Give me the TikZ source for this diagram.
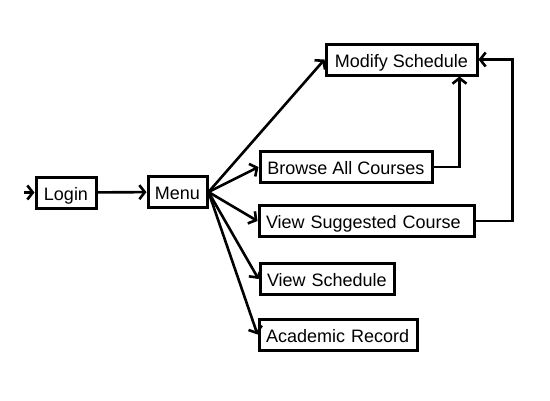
\documentclass[tikz,border=0pt]{standalone}
\usepackage{fontspec}
\setmainfont{Liberation Sans}
\usetikzlibrary{arrows.meta}
\begin{document}
\begin{tikzpicture}[x=1pt,y=-1pt,
  box/.style={draw,line width=3pt,minimum height=31pt,inner sep=0pt,text height=17pt,text depth=2pt,font=\fontsize{18}{21}\selectfont},
  lbox/.style={box,text width=#1-14pt,align=left,inner xsep=7pt},
  conn/.style={line width=2.6pt,-{Straight Barb[length=5.5pt,width=14pt,line width=2.6pt]}}]
\useasboundingbox (0,0) rectangle (550,400);
\node[box,minimum width=60pt] (login) at (66,192.5) {Login};
\node[box,minimum width=59pt] (menu) at (177.5,192) {Menu};
\node[box,minimum width=151pt] (mod) at (401.5,59.5) {Modify Schedule};
\node[box,minimum width=172pt] (browse) at (346,167) {Browse All Courses};
\node[lbox=215pt] (sugg) at (366.5,221) {View Suggested Course};
\node[lbox=134pt] (sched) at (327,279) {View Schedule};
\node[lbox=158pt] (acad) at (338,334.5) {Academic Record};
\coordinate (start) at (24,192.5);
\draw[conn] (start) -- (login);
\draw[conn] (login) -- (menu);
\draw[conn] (menu.east) -- (mod.west);
\draw[conn] (menu.east) -- (browse.west);
\draw[conn] (menu.east) -- (sugg.west);
\draw[conn] (menu.east) -- (sched.west);
\draw[conn] (menu.east) -- (acad.west);
\draw[conn] (browse.east) -| ([xshift=58pt]mod.south);
\draw[conn] (sugg.east) -- ++(37,0) |- (mod.east);
\end{tikzpicture}
\end{document}
